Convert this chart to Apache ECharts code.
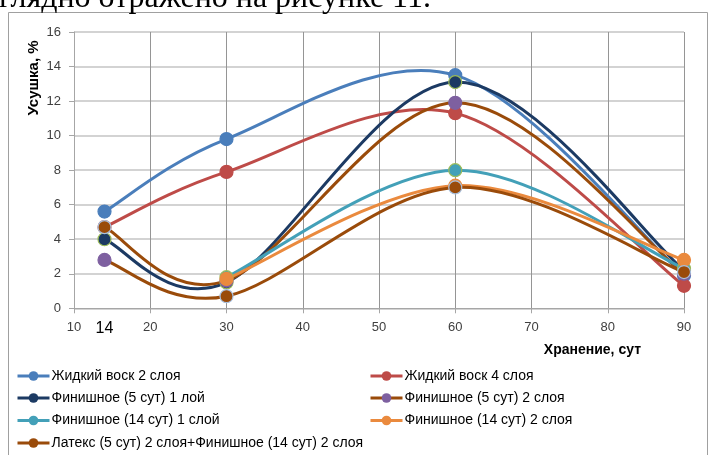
<!DOCTYPE html>
<html>
<head>
<meta charset="utf-8">
<script src="https://cdn.jsdelivr.net/npm/echarts@6/dist/echarts.min.js"></script>
<style>
html,body{margin:0;padding:0;background:#fff;}
#c{width:710px;height:455px;}
</style>
</head>
<body>
<div id="c"></div>
<script>
// ---- data ----
const days = [14, 30, 60, 90];
const xTicks = [10, 20, 30, 40, 50, 60, 70, 80, 90];
const yTicks = [0, 2, 4, 6, 8, 10, 12, 14, 16];
const names = [
  'Жидкий воск 2 слоя',
  'Жидкий воск 4 слоя',
  'Финишное (5 сут) 1 лой',
  'Финишное (5 сут) 2 слоя',
  'Финишное (14 сут) 1 слой',
  'Финишное (14 сут) 2 слоя',
  'Латекс (5 сут) 2 слоя+Финишное (14 сут) 2 слоя'
];
const wax2 = [5.6, 9.8, 13.5, 1.9];
const wax4 = [4.7, 7.9, 11.3, 1.3];
const fin5one = [4.0, 1.5, 13.1, 2.2];
const fin5two = [4.7, 1.6, 11.9, 2.0];
const fin14one = [null, 1.8, 8.0, 2.3];
const fin14two = [null, 1.7, 7.1, 2.8];
const latex = [2.8, 0.7, 7.0, 2.1];
const caption = 'глядно отражено на рисунке 11.';
const xName = 'Хранение, сут';
const yName = 'Усушка, %';

// ---- styles ----
const BROWN = '#9a4b0a', PURPLE = '#7e60a0';
const styles = [
  {line:'#4a7ebb', mark:'#4a7ebb', border:'#4a7ebb'},
  {line:'#be4b48', mark:'#be4b48', border:'#be4b48'},
  {line:'#1c3a63', mark:'#1c3a63', border:'#9bbb59'},
  {line:BROWN, mark:PURPLE, border:PURPLE},
  {line:'#43a0b8', mark:'#43a0b8', border:'#9bbb59'},
  {line:'#ea8a3e', mark:'#ea8a3e', border:'#ea8a3e'},
  {line:BROWN, mark:BROWN, border:'#a9c0de'}
];
const allValues = [wax2, wax4, fin5one, fin5two, fin14one, fin14two, latex];
// marker colour swaps seen in the picture at day 14
const markOverride = {3: {0: {color: BROWN, borderColor: '#a9c0de'}}, 6: {0: {color: PURPLE, borderColor: PURPLE}}};

// Excel-like smoothed path (Catmull-Rom style Bezier, tangent = (P[i+1]-P[i-1])/6)
function smoothPath(pts) {
  let d = 'M' + pts[0][0] + ' ' + pts[0][1];
  for (let i = 0; i < pts.length - 1; i++) {
    const p0 = pts[i - 1] || pts[i];
    const p1 = pts[i];
    const p2 = pts[i + 1];
    const p3 = pts[i + 2] || pts[i + 1];
    const c1x = p1[0] + (p2[0] - p0[0]) / 6, c1y = p1[1] + (p2[1] - p0[1]) / 6;
    const c2x = p2[0] - (p3[0] - p1[0]) / 6, c2y = p2[1] - (p3[1] - p1[1]) / 6;
    d += ' C' + c1x + ' ' + c1y + ' ' + c2x + ' ' + c2y + ' ' + p2[0] + ' ' + p2[1];
  }
  return d;
}

const curveSeries = [];
const markerSeries = [];
allValues.forEach((vals, si) => {
  const st = styles[si];
  const pairs = [];
  vals.forEach((v, i) => { if (v !== null) pairs.push([days[i], v]); });
  curveSeries.push({
    name: 'curve-' + si,
    type: 'custom',
    xAxisIndex: 0, yAxisIndex: 0,
    data: pairs,
    encode: {x: 0, y: 1},
    z: 2,
    silent: true,
    animation: false,
    renderItem: function (params, api) {
      if (params.dataIndex !== 0) return null;
      const pts = pairs.map(p => api.coord(p));
      return {
        type: 'path',
        shape: {pathData: smoothPath(pts)},
        style: {stroke: st.line, lineWidth: 3, fill: 'none', lineJoin: 'round', lineCap: 'round'}
      };
    }
  });
  const data = vals.map((v, i) => {
    if (v === null) return [days[i], null];
    const item = {value: [days[i], v]};
    if (markOverride[si] && markOverride[si][i]) item.itemStyle = markOverride[si][i];
    return item;
  });
  markerSeries.push({
    name: names[si],
    type: 'line',
    xAxisIndex: 0, yAxisIndex: 0,
    data: data,
    z: 3,
    symbol: 'circle',
    symbolSize: 13,
    showSymbol: true,
    lineStyle: {color: st.line, width: 3, opacity: 0},
    itemStyle: {color: st.mark, borderColor: st.border, borderWidth: 1.2},
    emphasis: {disabled: true},
    silent: true,
    animation: false
  });
});

// legend layout: two columns
const legendCells = [
  {i: 0, left: 16, row: 0}, {i: 1, left: 369, row: 0},
  {i: 2, left: 16, row: 1}, {i: 3, left: 369, row: 1},
  {i: 4, left: 16, row: 2}, {i: 5, left: 369, row: 2},
  {i: 6, left: 16, row: 3}
];
const rowCenters = [376, 398, 420.5, 443];
const legends = legendCells.map(c => ({
  data: [{
    name: names[c.i],
    lineStyle: {color: styles[c.i].line, width: 3, opacity: 1},
    itemStyle: {color: styles[c.i].mark, borderColor: styles[c.i].mark, borderWidth: 0}
  }],
  left: c.left, top: rowCenters[c.row] - 7,
  padding: 0,
  itemWidth: 32, itemHeight: 12, itemGap: 0,
  textStyle: {fontFamily: 'Liberation Sans', fontSize: 14, color: '#000', lineHeight: 14, padding: [0, 0, 0, -3]},
  selectedMode: false
}));

const chart = echarts.init(document.getElementById('c'), null, {renderer: 'canvas'});
chart.setOption({
  animation: false,
  backgroundColor: '#fff',
  grid: {left: 74, right: 26, top: 32, bottom: 146.7, containLabel: false},
  xAxis: [{
    type: 'value', min: xTicks[0], max: xTicks[xTicks.length - 1], interval: 10,
    position: 'bottom',
    axisLine: {show: true, lineStyle: {color: '#a6a6a6', width: 1}},
    axisTick: {show: true, length: 5, lineStyle: {color: '#a6a6a6'}},
    axisLabel: {fontFamily: 'Liberation Sans', fontSize: 13, color: '#404040', margin: 13},
    splitLine: {show: true, lineStyle: {color: '#959595', width: 1}}
  }, {
    type: 'value', min: 10, max: 90, interval: 2,
    position: 'bottom',
    axisLine: {show: false}, axisTick: {show: false}, splitLine: {show: false},
    axisLabel: {fontFamily: 'Liberation Sans', fontSize: 16, color: '#000', margin: 12,
      formatter: v => (v === days[0] ? String(days[0]) : '')}
  }],
  yAxis: {
    type: 'value', min: yTicks[0], max: yTicks[yTicks.length - 1], interval: 2,
    axisLine: {show: true, lineStyle: {color: '#a6a6a6', width: 1}},
    axisTick: {show: true, length: 5, lineStyle: {color: '#a6a6a6'}},
    axisLabel: {fontFamily: 'Liberation Sans', fontSize: 13, color: '#404040', margin: 13},
    splitLine: {show: true, lineStyle: {color: '#c4c4c4', width: 1.5}}
  },
  legend: legends,
  graphic: [
    {type: 'rect', shape: {x: 8.5, y: 12.5, width: 699, height: 460}, style: {fill: 'none', stroke: '#a0a0a0', lineWidth: 1}, silent: true, z: 0},
    {type: 'text', x: -1, y: 15, style: {text: caption, font: '32px "Liberation Serif"', fill: '#000', verticalAlign: 'bottom'}, z: 10},
    {type: 'text', x: 641, y: 350, style: {text: xName, font: 'bold 14px "Liberation Sans"', fill: '#000', align: 'right', verticalAlign: 'middle'}},
    {type: 'text', x: 34, y: 78, rotation: Math.PI / 2, style: {text: yName, font: 'bold 15px "Liberation Sans"', fill: '#000', align: 'center', verticalAlign: 'middle'}}
  ],
  series: curveSeries.concat(markerSeries)
});
</script>
</body>
</html>
